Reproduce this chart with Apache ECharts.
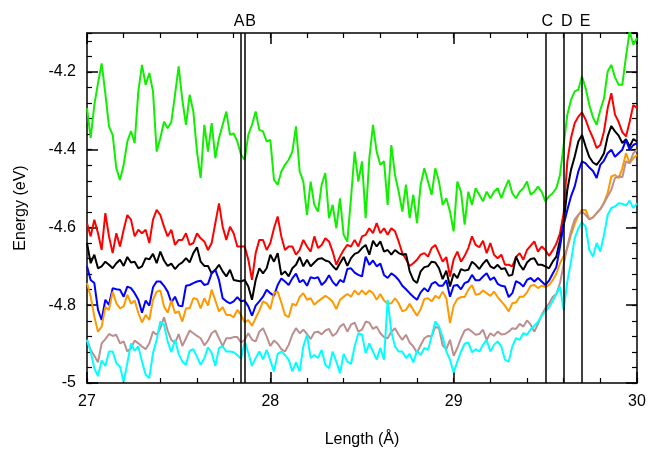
<!DOCTYPE html>
<html>
<head>
<meta charset="utf-8">
<script src="https://cdn.jsdelivr.net/npm/echarts@6/dist/echarts.min.js"></script>
<style>
html,body{margin:0;padding:0;background:#fff;}
#chart{width:648px;height:450px;}
</style>
</head>
<body>
<div id="chart"></div>
<script>
// Length (Å) sample positions
const lengths = [
27.00,27.02,27.04,27.06,27.08,27.10,27.12,27.14,27.16,27.18,
27.20,27.22,27.24,27.26,27.28,27.30,27.32,27.34,27.36,27.38,
27.40,27.42,27.44,27.46,27.48,27.50,27.52,27.54,27.56,27.58,
27.60,27.62,27.64,27.66,27.68,27.70,27.72,27.74,27.76,27.78,
27.80,27.82,27.84,27.86,27.88,27.90,27.92,27.94,27.96,27.98,
28.00,28.02,28.04,28.06,28.08,28.10,28.12,28.14,28.16,28.18,
28.20,28.22,28.24,28.26,28.28,28.30,28.32,28.34,28.36,28.38,
28.40,28.42,28.44,28.46,28.48,28.50,28.52,28.54,28.56,28.58,
28.60,28.62,28.64,28.66,28.68,28.70,28.72,28.74,28.76,28.78,
28.80,28.82,28.84,28.86,28.88,28.90,28.92,28.94,28.96,28.98,
29.00,29.02,29.04,29.06,29.08,29.10,29.12,29.14,29.16,29.18,
29.20,29.22,29.24,29.26,29.28,29.30,29.32,29.34,29.36,29.38,
29.40,29.42,29.44,29.46,29.48,29.50,29.52,29.54,29.56,29.58,
29.60,29.62,29.64,29.66,29.68,29.70,29.72,29.74,29.76,29.78,
29.80,29.82,29.84,29.86,29.88,29.90,29.92,29.94,29.96,29.98,
30.00];

const greenE = [
-4.293,-4.370,-4.285,-4.229,-4.178,-4.255,-4.340,-4.362,-4.448,-4.478,
-4.439,-4.379,-4.352,-4.383,-4.250,-4.182,-4.233,-4.203,-4.250,-4.405,
-4.370,-4.328,-4.345,-4.329,-4.259,-4.186,-4.272,-4.336,-4.259,-4.302,
-4.405,-4.473,-4.336,-4.405,-4.332,-4.422,-4.370,-4.336,-4.302,-4.362,
-4.358,-4.379,-4.413,-4.426,-4.362,-4.336,-4.302,-4.349,-4.353,-4.379,
-4.375,-4.478,-4.490,-4.456,-4.439,-4.426,-4.405,-4.340,-4.456,-4.482,
-4.568,-4.482,-4.542,-4.559,-4.490,-4.460,-4.576,-4.542,-4.602,-4.525,
-4.619,-4.636,-4.525,-4.405,-4.482,-4.430,-4.576,-4.422,-4.336,-4.405,
-4.439,-4.430,-4.542,-4.388,-4.465,-4.508,-4.559,-4.490,-4.576,-4.516,
-4.589,-4.490,-4.448,-4.482,-4.516,-4.448,-4.482,-4.542,-4.525,-4.559,
-4.610,-4.482,-4.508,-4.593,-4.508,-4.542,-4.499,-4.516,-4.533,-4.508,
-4.525,-4.508,-4.499,-4.525,-4.499,-4.478,-4.512,-4.525,-4.508,-4.499,
-4.482,-4.516,-4.508,-4.495,-4.508,-4.533,-4.520,-4.512,-4.499,-4.465,
-4.388,-4.310,-4.272,-4.250,-4.246,-4.212,-4.242,-4.285,-4.317,-4.336,
-4.298,-4.268,-4.199,-4.182,-4.214,-4.233,-4.233,-4.160,-4.096,-4.130,
-4.113];

const redE = [
-4.589,-4.623,-4.580,-4.615,-4.658,-4.563,-4.623,-4.666,-4.615,-4.649,
-4.606,-4.568,-4.580,-4.623,-4.606,-4.615,-4.606,-4.640,-4.580,-4.555,
-4.568,-4.598,-4.623,-4.606,-4.645,-4.632,-4.632,-4.615,-4.645,-4.640,
-4.615,-4.628,-4.636,-4.658,-4.640,-4.589,-4.538,-4.598,-4.632,-4.598,
-4.615,-4.649,-4.649,-4.649,-4.683,-4.735,-4.666,-4.632,-4.632,-4.658,
-4.640,-4.602,-4.572,-4.623,-4.658,-4.649,-4.649,-4.670,-4.658,-4.632,
-4.649,-4.662,-4.623,-4.653,-4.645,-4.628,-4.636,-4.662,-4.696,-4.675,
-4.658,-4.645,-4.649,-4.632,-4.649,-4.623,-4.619,-4.602,-4.615,-4.589,
-4.615,-4.602,-4.619,-4.602,-4.610,-4.636,-4.666,-4.682,-4.699,-4.692,
-4.683,-4.670,-4.666,-4.675,-4.653,-4.645,-4.666,-4.688,-4.676,-4.726,
-4.682,-4.662,-4.688,-4.673,-4.653,-4.623,-4.645,-4.651,-4.634,-4.666,
-4.640,-4.670,-4.679,-4.670,-4.696,-4.696,-4.700,-4.676,-4.666,-4.683,
-4.658,-4.647,-4.636,-4.662,-4.649,-4.658,-4.673,-4.659,-4.642,-4.615,
-4.563,-4.430,-4.370,-4.332,-4.315,-4.304,-4.323,-4.349,-4.370,-4.396,
-4.388,-4.353,-4.293,-4.255,-4.310,-4.329,-4.355,-4.366,-4.328,-4.285,
-4.293];

const blackE = [
-4.640,-4.692,-4.670,-4.705,-4.700,-4.688,-4.696,-4.705,-4.692,-4.683,
-4.699,-4.676,-4.690,-4.688,-4.705,-4.700,-4.679,-4.682,-4.668,-4.692,
-4.662,-4.685,-4.699,-4.693,-4.707,-4.696,-4.690,-4.679,-4.690,-4.666,
-4.651,-4.688,-4.699,-4.699,-4.718,-4.709,-4.696,-4.713,-4.726,-4.709,
-4.735,-4.737,-4.739,-4.735,-4.752,-4.786,-4.735,-4.705,-4.718,-4.705,
-4.670,-4.688,-4.666,-4.722,-4.713,-4.726,-4.705,-4.696,-4.676,-4.700,
-4.683,-4.700,-4.690,-4.681,-4.679,-4.685,-4.688,-4.699,-4.709,-4.692,
-4.676,-4.699,-4.679,-4.668,-4.664,-4.653,-4.645,-4.670,-4.634,-4.649,
-4.636,-4.662,-4.658,-4.670,-4.658,-4.666,-4.670,-4.668,-4.713,-4.735,
-4.743,-4.713,-4.702,-4.700,-4.688,-4.690,-4.705,-4.733,-4.711,-4.752,
-4.719,-4.730,-4.707,-4.711,-4.709,-4.688,-4.696,-4.707,-4.693,-4.683,
-4.700,-4.705,-4.696,-4.707,-4.705,-4.724,-4.722,-4.675,-4.696,-4.709,
-4.690,-4.681,-4.679,-4.696,-4.696,-4.700,-4.705,-4.688,-4.675,-4.632,
-4.589,-4.503,-4.452,-4.418,-4.379,-4.362,-4.392,-4.419,-4.433,-4.439,
-4.426,-4.409,-4.366,-4.339,-4.353,-4.364,-4.383,-4.373,-4.392,-4.373,
-4.379];

const blueE = [
-4.700,-4.735,-4.743,-4.812,-4.838,-4.786,-4.799,-4.756,-4.759,-4.760,
-4.778,-4.752,-4.756,-4.769,-4.786,-4.819,-4.788,-4.801,-4.754,-4.739,
-4.739,-4.750,-4.765,-4.793,-4.778,-4.801,-4.803,-4.750,-4.748,-4.743,
-4.739,-4.737,-4.748,-4.745,-4.718,-4.709,-4.735,-4.782,-4.790,-4.795,
-4.790,-4.779,-4.790,-4.788,-4.803,-4.827,-4.801,-4.790,-4.778,-4.760,
-4.769,-4.776,-4.748,-4.731,-4.739,-4.748,-4.731,-4.719,-4.741,-4.735,
-4.750,-4.728,-4.731,-4.728,-4.748,-4.739,-4.723,-4.740,-4.750,-4.735,
-4.741,-4.707,-4.705,-4.716,-4.722,-4.726,-4.675,-4.696,-4.685,-4.700,
-4.693,-4.722,-4.730,-4.718,-4.725,-4.735,-4.750,-4.759,-4.769,-4.778,
-4.786,-4.767,-4.756,-4.765,-4.745,-4.740,-4.750,-4.750,-4.736,-4.778,
-4.750,-4.748,-4.759,-4.743,-4.739,-4.722,-4.736,-4.736,-4.726,-4.718,
-4.735,-4.728,-4.745,-4.750,-4.752,-4.779,-4.769,-4.738,-4.743,-4.752,
-4.735,-4.730,-4.739,-4.730,-4.739,-4.748,-4.737,-4.719,-4.702,-4.649,
-4.593,-4.555,-4.520,-4.495,-4.456,-4.430,-4.435,-4.446,-4.455,-4.473,
-4.439,-4.428,-4.409,-4.400,-4.418,-4.409,-4.400,-4.375,-4.400,-4.388,
-4.383];

const orangeE = [
-4.743,-4.778,-4.829,-4.868,-4.855,-4.805,-4.812,-4.765,-4.795,-4.808,
-4.803,-4.773,-4.796,-4.788,-4.820,-4.844,-4.825,-4.838,-4.786,-4.765,
-4.762,-4.803,-4.819,-4.788,-4.820,-4.816,-4.842,-4.808,-4.808,-4.782,
-4.784,-4.808,-4.782,-4.801,-4.760,-4.788,-4.816,-4.805,-4.825,-4.825,
-4.831,-4.812,-4.825,-4.844,-4.838,-4.853,-4.833,-4.814,-4.790,-4.795,
-4.810,-4.769,-4.765,-4.793,-4.825,-4.831,-4.796,-4.801,-4.779,-4.769,
-4.786,-4.782,-4.799,-4.790,-4.783,-4.776,-4.782,-4.791,-4.810,-4.786,
-4.778,-4.771,-4.778,-4.762,-4.773,-4.762,-4.773,-4.762,-4.769,-4.786,
-4.771,-4.788,-4.796,-4.795,-4.782,-4.795,-4.816,-4.812,-4.796,-4.812,
-4.827,-4.810,-4.784,-4.782,-4.790,-4.776,-4.782,-4.765,-4.782,-4.846,
-4.801,-4.784,-4.779,-4.779,-4.760,-4.748,-4.773,-4.771,-4.762,-4.769,
-4.776,-4.765,-4.779,-4.790,-4.801,-4.816,-4.795,-4.793,-4.778,-4.778,
-4.767,-4.750,-4.748,-4.756,-4.750,-4.753,-4.748,-4.736,-4.719,-4.692,
-4.673,-4.653,-4.619,-4.591,-4.568,-4.555,-4.555,-4.579,-4.574,-4.563,
-4.553,-4.536,-4.512,-4.469,-4.465,-4.473,-4.448,-4.409,-4.435,-4.422,
-4.413];

const brownE = [
-4.889,-4.915,-4.930,-4.947,-4.898,-4.887,-4.874,-4.879,-4.876,-4.898,
-4.893,-4.919,-4.910,-4.891,-4.898,-4.906,-4.913,-4.898,-4.868,-4.876,
-4.859,-4.831,-4.865,-4.889,-4.898,-4.874,-4.905,-4.885,-4.865,-4.872,
-4.879,-4.885,-4.903,-4.891,-4.872,-4.865,-4.885,-4.905,-4.885,-4.885,
-4.882,-4.882,-4.896,-4.889,-4.872,-4.889,-4.893,-4.868,-4.859,-4.880,
-4.905,-4.891,-4.899,-4.913,-4.919,-4.902,-4.876,-4.859,-4.872,-4.863,
-4.874,-4.887,-4.870,-4.868,-4.875,-4.865,-4.861,-4.879,-4.872,-4.855,
-4.848,-4.868,-4.850,-4.845,-4.868,-4.863,-4.842,-4.845,-4.861,-4.855,
-4.872,-4.882,-4.885,-4.868,-4.859,-4.876,-4.889,-4.876,-4.896,-4.906,
-4.922,-4.903,-4.885,-4.879,-4.880,-4.856,-4.859,-4.903,-4.913,-4.889,
-4.930,-4.910,-4.885,-4.865,-4.861,-4.868,-4.876,-4.874,-4.863,-4.889,
-4.872,-4.879,-4.868,-4.875,-4.874,-4.868,-4.859,-4.861,-4.848,-4.855,
-4.839,-4.850,-4.868,-4.848,-4.825,-4.808,-4.796,-4.779,-4.771,-4.743,
-4.696,-4.649,-4.610,-4.579,-4.568,-4.559,-4.568,-4.579,-4.574,-4.563,
-4.553,-4.538,-4.520,-4.503,-4.473,-4.469,-4.471,-4.430,-4.435,-4.409,
-4.400];

const cyanE = [
-4.889,-4.919,-4.962,-4.982,-4.942,-4.956,-4.919,-4.919,-4.949,-4.958,
-4.996,-4.949,-4.898,-4.917,-4.906,-4.945,-4.979,-4.987,-4.923,-4.889,
-4.842,-4.850,-4.893,-4.921,-4.889,-4.925,-4.945,-4.953,-4.917,-4.913,
-4.933,-4.953,-4.936,-4.908,-4.923,-4.956,-4.910,-4.906,-4.919,-4.919,
-4.921,-4.928,-4.938,-4.893,-4.923,-4.956,-4.936,-4.919,-4.939,-4.915,
-4.942,-4.970,-4.925,-4.919,-4.928,-4.940,-4.970,-4.947,-4.970,-4.906,
-4.876,-4.936,-4.928,-4.936,-4.915,-4.953,-4.962,-4.919,-4.945,-4.975,
-4.925,-4.945,-4.951,-4.906,-4.872,-4.876,-4.923,-4.898,-4.919,-4.940,
-4.910,-4.940,-4.786,-4.868,-4.906,-4.919,-4.919,-4.936,-4.925,-4.947,
-4.917,-4.928,-4.910,-4.915,-4.880,-4.842,-4.855,-4.882,-4.919,-4.940,
-4.973,-4.945,-4.919,-4.899,-4.896,-4.921,-4.913,-4.919,-4.902,-4.889,
-4.919,-4.902,-4.893,-4.906,-4.940,-4.945,-4.906,-4.885,-4.889,-4.872,
-4.876,-4.862,-4.853,-4.843,-4.827,-4.816,-4.805,-4.790,-4.771,-4.752,
-4.812,-4.739,-4.688,-4.628,-4.602,-4.587,-4.598,-4.658,-4.675,-4.640,
-4.662,-4.619,-4.568,-4.550,-4.546,-4.538,-4.539,-4.544,-4.531,-4.550,
-4.538];

// Marked positions
const markNames = ['A','B','C','D','E'];
const markPositions = [27.84, 27.865, 29.50, 29.60, 29.70];

const xTicks = [27, 28, 29, 30];
const yTicks = [-5, -4.8, -4.6, -4.4, -4.2];

const FONT = 'Liberation Sans, Arial, Helvetica, sans-serif';

function pairs(ys){ return lengths.map((x,i)=>[x, ys[i]]); }

const seriesDefs = [
  {name:'green', color:'#11ee00', data:greenE},
  {name:'red', color:'#ff0000', data:redE},
  {name:'black', color:'#000000', data:blackE},
  {name:'blue', color:'#0000ff', data:blueE},
  {name:'orange', color:'#ff9900', data:orangeE},
  {name:'brown', color:'#bc8f8f', data:brownE},
  {name:'cyan', color:'#00ffff', data:cyanE}
];

const series = seriesDefs.map(s => ({
  type:'line', name:s.name, data:pairs(s.data),
  xAxisIndex:0, yAxisIndex:0,
  showSymbol:false, symbol:'none', animation:false, clip:true,
  lineStyle:{color:s.color, width:2}, z:2
}));

const labelShift = {A:[0,4,0,0], B:[0,0,0,12], C:[0,0,0,4], D:[0,0,0,6], E:[0,0,0,6]};
series.push({
  type:'line', name:'marks', data:[], xAxisIndex:0, yAxisIndex:0, z:5,
  animation:false,
  markLine:{
    silent:true, symbol:['none','none'], animation:false,
    lineStyle:{color:'#000', width:1.5, type:'solid'},
    label:{show:true, position:'end', formatter:'{b}', color:'#000', fontSize:16, fontFamily:FONT, distance:3},
    data: markNames.map((n,i)=>({name:n, xAxis:markPositions[i], label:{padding:labelShift[n]}}))
  }
});

const chart = echarts.init(document.getElementById('chart'), null, {renderer:'canvas'});
const majorTick = {show:true, inside:true, length:11, lineStyle:{color:'#000', width:1.5}};
const minorTickAx = {show:true, inside:true, length:5, lineStyle:{color:'#000', width:1.2}};
const axLine = {show:true, onZero:false, lineStyle:{color:'#000', width:1.5}};
const noLine = {show:false};

chart.setOption({
  backgroundColor:'#fff',
  animation:false,
  grid:[
    {left:87, right:11, top:33, bottom:67, containLabel:false, outerBoundsMode:'none'},
    {left:87, right:11, top:33, bottom:67, containLabel:false, outerBoundsMode:'none'}
  ],
  xAxis:[
    {type:'value', gridIndex:0, min:27, max:30, interval:1, position:'bottom',
     axisLine:axLine, axisTick:majorTick, splitLine:{show:false},
     axisLabel:{color:'#000', fontSize:16, fontFamily:FONT, margin:11},
     name:'Length (Å)', nameLocation:'middle', nameGap:49,
     nameTextStyle:{color:'#000', fontSize:16, fontFamily:FONT}},
    {type:'value', gridIndex:0, min:27, max:30, interval:1, position:'top',
     axisLine:axLine, axisTick:majorTick, splitLine:{show:false}, axisLabel:{show:false}},
    {type:'value', gridIndex:1, min:27, max:30, interval:0.2, position:'bottom',
     axisLine:noLine, axisTick:minorTickAx, splitLine:{show:false}, axisLabel:{show:false}},
    {type:'value', gridIndex:1, min:27, max:30, interval:0.2, position:'top',
     axisLine:noLine, axisTick:minorTickAx, splitLine:{show:false}, axisLabel:{show:false}}
  ],
  yAxis:[
    {type:'value', gridIndex:0, min:-5, max:-4.1, interval:0.2, position:'left',
     axisLine:axLine, axisTick:majorTick, splitLine:{show:false},
     axisLabel:{color:'#000', fontSize:16, fontFamily:FONT, margin:11, showMaxLabel:false,
       formatter:(v)=> yTicks.some(t=>Math.abs(t-v)<1e-6) ? String(v) : ''},
     name:'Energy (eV)', nameLocation:'middle', nameGap:58,
     nameTextStyle:{color:'#000', fontSize:16, fontFamily:FONT}},
    {type:'value', gridIndex:0, min:-5, max:-4.1, interval:0.2, position:'right',
     axisLine:axLine, axisTick:majorTick, splitLine:{show:false}, axisLabel:{show:false}},
    {type:'value', gridIndex:1, min:-5, max:-4.1, interval:0.04, position:'left',
     axisLine:noLine, axisTick:minorTickAx, splitLine:{show:false}, axisLabel:{show:false}},
    {type:'value', gridIndex:1, min:-5, max:-4.1, interval:0.04, position:'right',
     axisLine:noLine, axisTick:minorTickAx, splitLine:{show:false}, axisLabel:{show:false}}
  ],
  series: series
});
</script>
</body>
</html>
